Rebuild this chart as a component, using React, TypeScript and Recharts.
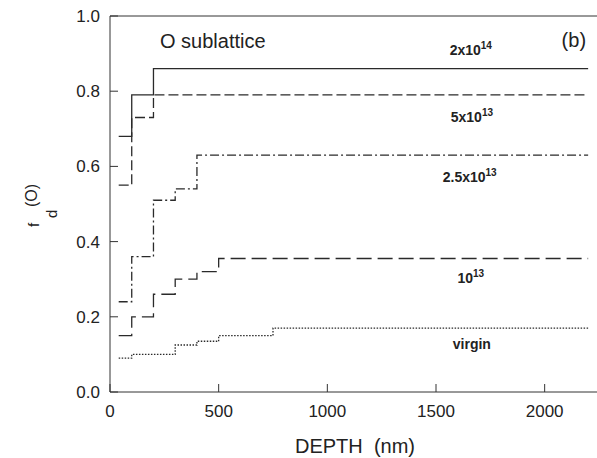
import React from 'react';
import { LineChart, Line, XAxis, YAxis, ReferenceDot } from 'recharts';

// step profiles: depth where each level starts (nm), last point closes the line
const depth2e14 = [40, 100, 200, 2200];
const fd2e14 = [0.68, 0.79, 0.86, 0.86];

const depth5e13 = [40, 100, 200, 2200];
const fd5e13 = [0.55, 0.73, 0.79, 0.79];

const depth25e12 = [40, 100, 200, 300, 400, 2200];
const fd25e12 = [0.24, 0.36, 0.51, 0.54, 0.63, 0.63];

const depth1e13 = [40, 100, 200, 300, 400, 500, 2200];
const fd1e13 = [0.15, 0.2, 0.26, 0.3, 0.32, 0.355, 0.355];

const depthVirgin = [40, 100, 300, 400, 500, 750, 2200];
const fdVirgin = [0.09, 0.1, 0.125, 0.135, 0.15, 0.17, 0.17];

const xTicks = [0, 500, 1000, 1500, 2000];
const yTicks = [0, 0.2, 0.4, 0.6, 0.8, 1.0];

// series labels (centre depth, baseline fd)
const labelMain = ['2x10', '5x10', '2.5x10', '10', 'virgin'];
const labelSup = ['14', '13', '13', '13', ''];
const labelDepth = [1660, 1665, 1655, 1660, 1665];
const labelFd = [0.896, 0.719, 0.559, 0.289, 0.115];

const FONT = '"Liberation Sans", Arial, sans-serif';
const INK = '#333';

const toPoints = (d: number[], f: number[]) => d.map((x, i) => ({ depth: x, fd: f[i] }));

const series = [
  { name: '2x10^14', data: toPoints(depth2e14, fd2e14), dash: undefined },
  { name: '5x10^13', data: toPoints(depth5e13, fd5e13), dash: '10 4' },
  { name: '2.5x10^13', data: toPoints(depth25e12, fd25e12), dash: '9 3 2 3' },
  { name: '10^13', data: toPoints(depth1e13, fd1e13), dash: '15 6' },
  { name: 'virgin', data: toPoints(depthVirgin, fdVirgin), dash: '1.5 1.5' },
];

const YLabel = () => (
  <g fontFamily={FONT} fill="#222">
    <text transform="rotate(-90)" x={-227} y={39} fontSize={15}>f</text>
    <text transform="rotate(-90)" x={-218} y={57} fontSize={15}>d</text>
    <text transform="rotate(-90)" x={-207} y={37} fontSize={16}>(O)</text>
  </g>
);

const XLabel = () => (
  <text x={355} y={453} textAnchor="middle" fontFamily={FONT} fontSize={20} fill="#222" style={{ whiteSpace: 'pre' }}>
    DEPTH  (nm)
  </text>
);

export default function App() {
  return (
    <div style={{ position: 'absolute', left: 0, top: 0, width: 597, height: 458, overflow: 'hidden', background: '#fff' }}>
      <LineChart width={600} height={458} margin={{ top: 15, right: 0, bottom: 0, left: 0 }}>
        <XAxis
          dataKey="depth"
          type="number"
          domain={[0, 2250]}
          ticks={xTicks}
          height={66}
          tickSize={-8}
          tickMargin={21}
          stroke={INK}
          tick={{ fill: '#222', fontSize: 17, fontFamily: FONT }}
          label={<XLabel />}
        />
        <XAxis
          xAxisId="top"
          orientation="top"
          type="number"
          domain={[0, 2250]}
          ticks={xTicks}
          height={1}
          tickSize={-8}
          tick={false}
          stroke={INK}
        />
        <YAxis
          type="number"
          domain={[0, 1]}
          ticks={yTicks}
          width={110}
          tickSize={-8}
          tickMargin={18}
          stroke={INK}
          tickFormatter={(v: number) => v.toFixed(1)}
          tick={{ fill: '#222', fontSize: 17, fontFamily: FONT }}
          label={<YLabel />}
        />
        <YAxis
          yAxisId="right"
          orientation="right"
          type="number"
          domain={[0, 1]}
          ticks={yTicks}
          width={1}
          tickSize={-8}
          tick={false}
          stroke={INK}
        />
        {series.map((s) => (
          <Line
            key={s.name}
            data={s.data}
            dataKey="fd"
            type="stepAfter"
            stroke="#2a2a2a"
            strokeWidth={1.3}
            strokeDasharray={s.dash}
            dot={false}
            activeDot={false}
            isAnimationActive={false}
          />
        ))}
        {labelMain.map((m, i) => (
          <ReferenceDot
            key={m}
            x={labelDepth[i]}
            y={labelFd[i]}
            r={0}
            shape={(p: any) => (
              <text x={p.cx} y={p.cy} textAnchor="middle" fontFamily={FONT} fontWeight="bold" fontSize={14} fill="#222">
                <tspan>{m}</tspan>
                {labelSup[i] && (
                  <tspan dy={-6} fontSize={10}>
                    {labelSup[i]}
                  </tspan>
                )}
              </text>
            )}
          />
        ))}
        <ReferenceDot
          x={230}
          y={0.915}
          r={0}
          shape={(p: any) => (
            <text x={p.cx} y={p.cy} fontFamily={FONT} fontSize={20} fill="#222">
              O sublattice
            </text>
          )}
        />
        <ReferenceDot
          x={2078}
          y={0.917}
          r={0}
          shape={(p: any) => (
            <text x={p.cx} y={p.cy} fontFamily={FONT} fontSize={20} fill="#222">
              (b)
            </text>
          )}
        />
      </LineChart>
    </div>
  );
}
